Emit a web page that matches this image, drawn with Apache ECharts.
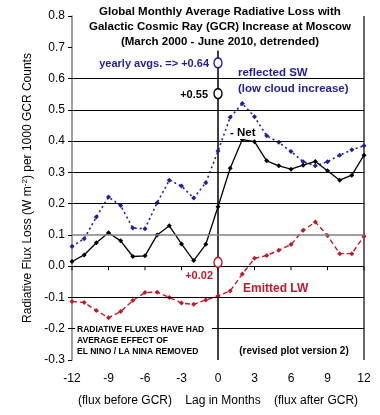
<!DOCTYPE html>
<html>
<head>
<meta charset="utf-8">
<script src="https://cdn.jsdelivr.net/npm/echarts@6/dist/echarts.min.js"></script>
<style>html,body{margin:0;padding:0;background:#fff;}#c{width:380px;height:415px;}</style>
</head>
<body>
<div id="c"></div>
<script>
// ---- data ----
const months = [-12,-11,-10,-9,-8,-7,-6,-5,-4,-3,-2,-1,0,1,2,3,4,5,6,7,8,9,10,11,12];
const reflectedSW = [0.063,0.088,0.157,0.221,0.194,0.122,0.120,0.203,0.275,0.256,0.218,0.267,0.368,0.476,0.520,0.478,0.417,0.396,0.367,0.334,0.321,0.334,0.355,0.372,0.385];
const netFlux = [0.015,0.036,0.075,0.107,0.081,0.031,0.033,0.100,0.129,0.071,0.018,0.070,0.190,0.313,0.405,0.398,0.337,0.321,0.310,0.323,0.335,0.305,0.275,0.291,0.355];
const emittedLW = [-0.113,-0.116,-0.142,-0.165,-0.145,-0.110,-0.084,-0.083,-0.100,-0.118,-0.122,-0.108,-0.095,-0.079,-0.025,0.025,0.034,0.051,0.069,0.115,0.141,0.098,0.040,0.040,0.096];
const yearlyAvgSW = 0.65, yearlyAvgNet = 0.552, yearlyAvgLW = 0.012;
const yGridBlack = [-0.2,-0.1,0,0.2,0.3,0.4,0.5,0.6];
const yGridGray = [0.1];
const xTicks = [-12,-9,-6,-3,0,3,6,9,12];
const xTickLabels = ['-12','-9','-6','-3','0','3','6','9','12'];
const zeroLineSpan = [0.69, -0.3];
const frameSpan = [0.8, -0.3];

const BLUE = '#1e1e9e', RED = '#c01a28', BLACK = '#000';
const pairs = arr => months.map((m,i)=>[m, arr[i]]);
const hLine = (v, color, width) => [
  {coord:[-12, v], lineStyle:{color:color, width:width, type:'solid'}},
  {coord:[12, v]}
];

const chart = echarts.init(document.getElementById('c'), null, {renderer:'canvas'});
const FONT = 'Liberation Sans, Arial, sans-serif';

chart.setOption({
  animation:false,
  backgroundColor:'#fff',
  textStyle:{fontFamily:FONT},
  grid:{left:72, right:16, top:16, bottom:55, containLabel:false},
  xAxis:[{
    type:'value', min:-12, max:12, interval:3,
    axisLine:{show:false, onZero:false},
    axisTick:{show:false},
    splitLine:{show:false},
    axisLabel:{color:'#000', fontSize:12, margin:13, fontFamily:FONT,
      formatter: v => xTickLabels[xTicks.indexOf(Math.round(v))]},
    name:'(flux before GCR)    Lag in Months    (flux after GCR)',
    nameLocation:'middle', nameGap:35,
    nameTextStyle:{color:'#000', fontSize:12, fontFamily:FONT}
  }],
  yAxis:[{
    type:'value', min:-0.3, max:0.8, interval:0.1,
    axisLine:{show:true, onZero:false, lineStyle:{color:'#808080', width:1.5}},
    axisTick:{show:true, length:4, lineStyle:{color:'#000'}},
    splitLine:{show:false},
    axisLabel:{color:'#000', fontSize:12, margin:7, fontFamily:FONT,
      formatter: v => v.toFixed(1)},
    name:'{n|Radiative Flux Loss (W m}{s|-2}{n|) per 1000 GCR Counts}',
    nameLocation:'middle', nameGap:34, nameRotate:90,
    nameTextStyle:{rich:{
      n:{fontSize:12, color:'#000', fontFamily:FONT},
      s:{fontSize:8, color:'#000', fontFamily:FONT, verticalAlign:'top', padding:[0,0,6,0]}
    }}
  }],
  series:[
    {
      type:'line', name:'frame', data:frameSpan.map(v=>[12,v]), z:1, silent:true, clip:false,
      symbol:'none', lineStyle:{color:'#000', width:1.2},
      markLine:{
        silent:true, symbol:['none','none'], label:{show:false}, animation:false,
        data:[
          ...yGridBlack.map(v=>hLine(v,'#000',1)),
          ...yGridGray.map(v=>hLine(v,'#808080',1.5))
        ]
      }
    },
    {
      type:'scatter', name:'x ticks', data:xTicks.map(x=>[x,0]), z:2, silent:true, clip:false,
      symbol:'rect', symbolSize:[1,4], symbolOffset:[0,2],
      itemStyle:{color:'#000', opacity:1}
    },
    {
      type:'line', name:'zero lag', data:zeroLineSpan.map(v=>[0,v]), z:2, silent:true,
      symbol:'none', lineStyle:{color:'#000', width:1.5}
    },
    {
      type:'line', name:'reflected SW', data:pairs(reflectedSW), z:3,
      symbol:'diamond', symbolSize:5, showSymbol:true,
      itemStyle:{color:BLUE}, lineStyle:{color:BLUE, width:1.6, type:[2,3]}
    },
    {
      type:'line', name:'Net', data:pairs(netFlux), z:4,
      symbol:'diamond', symbolSize:5,
      itemStyle:{color:BLACK}, lineStyle:{color:BLACK, width:1.3}
    },
    {
      type:'line', name:'Emitted LW', data:pairs(emittedLW), z:3,
      symbol:'diamond', symbolSize:5,
      itemStyle:{color:RED}, lineStyle:{color:RED, width:1.4, type:[5,3]}
    },
    {
      type:'scatter', name:'yearly avgs', z:6,
      symbol:'circle', symbolSize:[8,10],
      data:[
        {value:[0,yearlyAvgSW], itemStyle:{color:'#fff', opacity:1, borderColor:BLUE, borderWidth:1.5}},
        {value:[0,yearlyAvgNet], itemStyle:{color:'#fff', opacity:1, borderColor:BLACK, borderWidth:1.5}},
        {value:[0,yearlyAvgLW], itemStyle:{color:'#fff', opacity:1, borderColor:RED, borderWidth:1.5}}
      ]
    }
  ],
  graphic:[
    {type:'rect', shape:{x:76, y:2, width:284, height:47}, style:{fill:'#fff'}, z:20},
    {type:'text', x:220, y:12, z:21, style:{text:'Global Monthly Average Radiative Loss with', font:'bold 11.5px '+FONT, fill:'#000', align:'center', verticalAlign:'middle'}},
    {type:'text', x:220, y:27, z:21, style:{text:'Galactic Cosmic Ray (GCR) Increase at Moscow', font:'bold 11.5px '+FONT, fill:'#000', align:'center', verticalAlign:'middle'}},
    {type:'text', x:220, y:42, z:21, style:{text:'(March 2000 - June 2010, detrended)', font:'bold 11.5px '+FONT, fill:'#000', align:'center', verticalAlign:'middle'}},
    {type:'text', x:209, y:64, style:{text:'yearly avgs. => +0.64', font:'bold 11px '+FONT, fill:BLUE, align:'right', verticalAlign:'middle'}},
    {type:'text', x:208, y:95, style:{text:'+0.55', font:'bold 11px '+FONT, fill:'#000', align:'right', verticalAlign:'middle'}},
    {type:'text', x:238, y:73, style:{text:'reflected SW', font:'bold 11.5px '+FONT, fill:BLUE, align:'left', verticalAlign:'middle'}},
    {type:'text', x:238, y:89, style:{text:'(low cloud increase)', font:'bold 11.5px '+FONT, fill:BLUE, align:'left', verticalAlign:'middle'}},
    {type:'text', x:230, y:133, z:10, style:{text:'- Net', font:'bold 11.5px '+FONT, fill:'#000', align:'left', verticalAlign:'middle', backgroundColor:'#fff'}},
    {type:'text', x:213, y:276, style:{text:'+0.02', font:'bold 11px '+FONT, fill:RED, align:'right', verticalAlign:'middle'}},
    {type:'text', x:243, y:289, style:{text:'Emitted LW', font:'bold 12px '+FONT, fill:RED, align:'left', verticalAlign:'middle'}},
    {type:'rect', shape:{x:75, y:322, width:137, height:36}, style:{fill:'#fff'}, z:10},
    {type:'text', x:77, y:330, z:11, style:{text:'RADIATIVE FLUXES HAVE HAD', font:'bold 8.5px '+FONT, fill:'#000', align:'left', verticalAlign:'middle'}},
    {type:'text', x:77, y:341, z:11, style:{text:'AVERAGE EFFECT OF', font:'bold 8.5px '+FONT, fill:'#000', align:'left', verticalAlign:'middle'}},
    {type:'text', x:77, y:352, z:11, style:{text:'EL NINO / LA NINA REMOVED', font:'bold 8.5px '+FONT, fill:'#000', align:'left', verticalAlign:'middle'}},
    {type:'text', x:294, y:351, style:{text:'(revised plot version 2)', font:'bold 10px '+FONT, fill:'#000', align:'center', verticalAlign:'middle'}}
  ]
});
</script>
</body>
</html>
